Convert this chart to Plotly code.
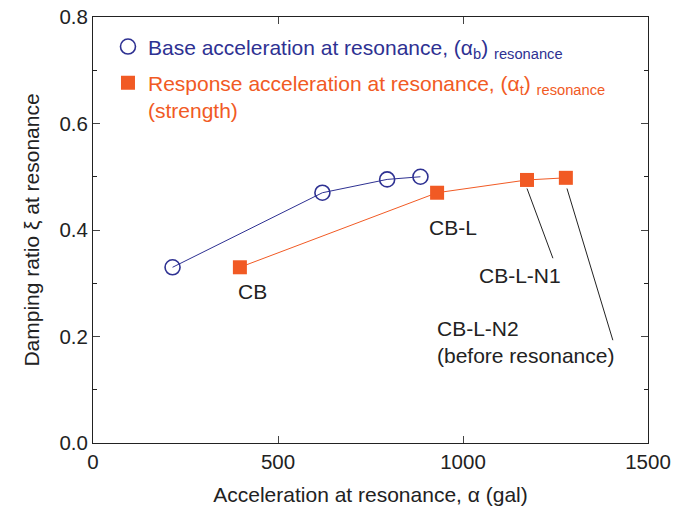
import plotly.graph_objects as go

base_x = [215, 620, 795, 885]
base_y = [0.33, 0.47, 0.495, 0.50]
resp_x = [397, 930, 1173, 1278]
resp_y = [0.33, 0.47, 0.494, 0.498]
labels = ["CB", "CB-L", "CB-L-N1", "CB-L-N2<br>(before resonance)"]

BLUE = "#2e3192"
RED = "#f15a24"
FONT = "Liberation Sans, Arial, sans-serif"
TXT = "#222"

circle = dict(symbol="circle-open", size=15, color=BLUE, line=dict(width=1.6, color=BLUE))
square = dict(symbol="square", size=14, color=RED)

fig = go.Figure()
fig.add_trace(go.Scatter(x=base_x, y=base_y, mode="lines+markers", showlegend=False,
                         line=dict(color=BLUE, width=1), marker=circle))
fig.add_trace(go.Scatter(x=resp_x, y=resp_y, mode="lines+markers", showlegend=False,
                         line=dict(color=RED, width=1), marker=square))
# legend entries (markers only)
fig.add_trace(go.Scatter(
    x=[None], y=[None], mode="markers", marker=circle, legendgroup="a",
    name=f"<span style='color:{BLUE}'>Base acceleration at resonance, (α<sub>b</sub>) <sub>resonance</sub></span>"))
fig.add_trace(go.Scatter(
    x=[None], y=[None], mode="markers", marker=square, legendgroup="b",
    name=f"<span style='color:{RED}'>Response acceleration at resonance, (α<sub>t</sub>) <sub>resonance</sub><br>(strength)</span>"))

# point labels
fig.add_annotation(x=432, y=0.284, text=labels[0], showarrow=False, font=dict(size=21, color=TXT))
fig.add_annotation(x=973, y=0.404, text=labels[1], showarrow=False, font=dict(size=21, color=TXT))
fig.add_annotation(x=1154, y=0.314, text=labels[2], showarrow=False, font=dict(size=21, color=TXT))
fig.add_annotation(x=925, y=0.19, text=labels[3], showarrow=False, xanchor="left", align="left",
                   font=dict(size=21, color=TXT))
# leader lines
fig.add_shape(type="line", x0=resp_x[2], y0=resp_y[2] - 0.016, x1=1243, y1=0.347,
              line=dict(color=TXT, width=1))
fig.add_shape(type="line", x0=resp_x[3] + 3, y0=resp_y[3] - 0.02, x1=1405, y1=0.193,
              line=dict(color=TXT, width=1))

fig.update_layout(
    width=690, height=513,
    margin=dict(l=93, r=42, t=17, b=70, autoexpand=False),
    paper_bgcolor="white", plot_bgcolor="white",
    font=dict(family=FONT, size=21, color=TXT),
    showlegend=True,
    legend=dict(x=0.027, y=0.978, xanchor="left", yanchor="top", bgcolor="rgba(0,0,0,0)",
                font=dict(size=21), tracegroupgap=6, itemwidth=30, valign="top"),
)
fig.update_xaxes(range=[0, 1500], tickvals=[0, 500, 1000, 1500], ticks="inside", ticklen=7,
                 showline=True, linecolor=TXT, linewidth=1, mirror="ticks", showgrid=False,
                 zeroline=False, tickfont=dict(size=20.5), automargin=False,
                 title=dict(text="Acceleration at resonance, α (gal)", font=dict(size=21), standoff=15))
fig.update_yaxes(range=[0, 0.8], tickvals=[0, 0.2, 0.4, 0.6, 0.8], tickformat=".1f", ticks="inside",
                 ticklen=7, showline=True, linecolor=TXT, linewidth=1, mirror="ticks",
                 showgrid=False, zeroline=False, tickfont=dict(size=20.5), automargin=False,
                 minor=dict(tickvals=[0.1, 0.3, 0.5, 0.7], ticks="inside", ticklen=4, tickcolor=TXT),
                 title=dict(text="Damping ratio ξ at resonance", font=dict(size=21), standoff=14))

fig.write_html("out.html")
